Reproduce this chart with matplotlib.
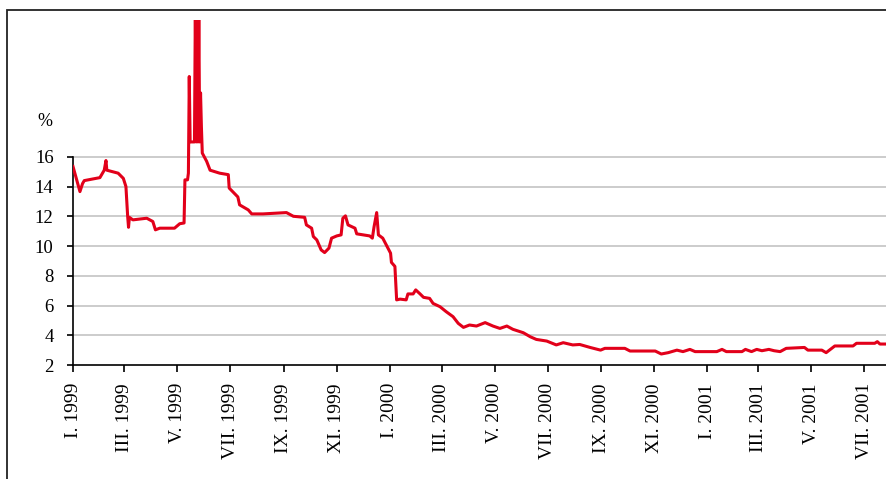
import matplotlib
matplotlib.use("Agg")
import matplotlib.pyplot as plt
from matplotlib.patches import Rectangle
import pandas as pd

plt.rcParams['font.family'] = ['Liberation Serif', 'DejaVu Serif']

# rate readings (date, %)
dates = [
    "1999-01-01", "1999-01-09", "1999-01-12", "1999-01-14", "1999-02-01", "1999-02-06",
    "1999-02-08", "1999-02-09", "1999-02-22", "1999-02-28", "1999-03-03", "1999-03-05",
    "1999-03-06", "1999-03-07", "1999-03-11", "1999-03-27", "1999-04-03", "1999-04-06",
    "1999-04-11", "1999-04-28", "1999-05-04", "1999-05-09", "1999-05-10", "1999-05-13",
    "1999-05-14", "1999-05-15", "1999-05-16", "1999-05-17", "1999-05-21", "1999-05-22",
    "1999-05-23", "1999-05-24", "1999-05-25", "1999-05-26", "1999-05-27", "1999-05-28",
    "1999-05-29", "1999-05-30", "1999-06-04",
    "1999-06-08", "1999-06-19", "1999-06-29", "1999-06-30", "1999-07-10", "1999-07-12",
    "1999-07-22", "1999-07-26", "1999-08-08", "1999-09-04", "1999-09-12", "1999-09-25",
    "1999-09-27", "1999-10-03", "1999-10-05", "1999-10-09", "1999-10-14", "1999-10-18",
    "1999-10-23", "1999-10-26", "1999-11-01", "1999-11-06", "1999-11-08", "1999-11-11",
    "1999-11-14", "1999-11-22", "1999-11-24", "1999-12-09", "1999-12-12", "1999-12-14",
    "1999-12-17", "1999-12-19", "1999-12-24", "1999-12-29", "2000-01-02", "2000-01-03",
    "2000-01-07", "2000-01-09", "2000-01-13", "2000-01-20", "2000-01-22", "2000-01-28",
    "2000-01-31", "2000-02-05", "2000-02-09", "2000-02-16", "2000-02-20", "2000-02-28",
    "2000-03-06", "2000-03-14", "2000-03-20", "2000-03-26", "2000-04-02", "2000-04-10",
    "2000-04-20", "2000-04-29", "2000-05-07", "2000-05-15", "2000-05-22", "2000-06-03",
    "2000-06-11", "2000-06-18", "2000-06-30", "2000-07-11", "2000-07-19", "2000-07-30",
    "2000-08-07", "2000-08-19", "2000-08-31", "2000-09-05", "2000-09-28", "2000-10-04",
    "2000-11-02", "2000-11-09", "2000-11-17", "2000-11-27", "2000-12-04", "2000-12-12",
    "2000-12-18", "2001-01-12", "2001-01-18", "2001-01-23", "2001-02-10", "2001-02-14",
    "2001-02-21", "2001-02-27", "2001-03-05", "2001-03-13", "2001-03-19", "2001-03-26",
    "2001-04-02", "2001-04-23", "2001-04-27", "2001-05-13", "2001-05-18", "2001-05-28",
    "2001-06-18", "2001-06-22", "2001-07-13", "2001-07-16", "2001-07-19", "2001-07-31",
]
rates = [
    15.35, 13.66, 14.2, 14.4, 14.6, 15.1,
    15.75, 15.1, 14.9, 14.55, 14.0, 12.0,
    11.26, 11.93, 11.76, 11.87, 11.65, 11.09,
    11.2, 11.2, 11.5, 11.55, 14.45, 14.45,
    14.9, 21.4, 17.0, 17.0, 17.0, 26.0,
    17.0, 26.0, 17.0, 26.0, 17.0, 20.3,
    18.0, 16.25, 15.7,
    15.1, 14.9, 14.8, 13.9, 13.3, 12.77,
    12.43, 12.16, 12.16, 12.25, 12.0, 11.93,
    11.42, 11.2, 10.64, 10.41, 9.74, 9.56,
    9.86, 10.53, 10.68, 10.75, 11.87, 12.03,
    11.42, 11.2, 10.82, 10.68, 10.53, 11.3,
    12.25, 10.75, 10.53, 9.97, 9.52, 8.9,
    8.63, 6.38, 6.43, 6.38, 6.78, 6.78,
    7.05, 6.78, 6.55, 6.48, 6.14, 5.92,
    5.59, 5.25, 4.8, 4.53, 4.69, 4.62,
    4.85, 4.62, 4.46, 4.62, 4.4, 4.17,
    3.9, 3.72, 3.61, 3.35, 3.5, 3.35,
    3.38, 3.18, 3.0, 3.12, 3.12, 2.94,
    2.94, 2.74, 2.83, 3.0, 2.9, 3.05,
    2.9, 2.9, 3.05, 2.9, 2.9, 3.05,
    2.9, 3.05, 2.96, 3.05, 2.96, 2.9,
    3.12, 3.18, 3.0, 3.0, 2.83, 3.28,
    3.28, 3.46, 3.46, 3.57, 3.41, 3.41,
]

tick_dates = ["1999-01-01", "1999-03-01", "1999-05-01", "1999-07-01", "1999-09-01",
              "1999-11-01", "2000-01-01", "2000-03-01", "2000-05-01", "2000-07-01",
              "2000-09-01", "2000-11-01", "2001-01-01", "2001-03-01", "2001-05-01",
              "2001-07-01"]
tick_labels = ["I. 1999", "III. 1999", "V. 1999", "VII. 1999", "IX. 1999", "XI. 1999",
               "I. 2000", "III. 2000", "V. 2000", "VII. 2000", "IX. 2000", "XI. 2000",
               "I. 2001", "III. 2001", "V. 2001", "VII. 2001"]
y_ticks = [2, 4, 6, 8, 10, 12, 14, 16]

x = pd.to_datetime(dates)

fig = plt.figure(figsize=(8.86, 4.79), dpi=100)
ax = fig.add_axes([73 / 886, 1 - 365 / 479, 1 - 73 / 886, (365 - 20) / 479])

# outer frame (clipped by the image on the right and bottom)
fig.patches.append(Rectangle((7 / 886, -0.2), 1.5, 0.2 + (1 - 10 / 479),
                             transform=fig.transFigure, fill=False,
                             edgecolor='#222222', linewidth=1.3))

for yv in y_ticks[1:]:
    ax.axhline(yv, color='#c8c8c8', linewidth=1.3, zorder=1)

ax.plot(x, rates, color='#e2001a', linewidth=2.2, zorder=3)

ax.set_ylim(2, 25.2)
ax.set_xlim(pd.Timestamp("1999-01-01"), pd.Timestamp("2001-07-26"))

ax.set_yticks(y_ticks)
ax.set_yticklabels([str(v) for v in y_ticks], fontsize=13.5)
ax.set_xticks(pd.to_datetime(tick_dates))
ax.set_xticklabels(tick_labels, rotation=90, fontsize=14, va='top', ha='center')

ax.tick_params(axis='x', direction='out', length=5, width=1.2, pad=8)
ax.tick_params(axis='y', direction='out', length=4, width=1.2, pad=10)

for s in ['top', 'right']:
    ax.spines[s].set_visible(False)
ax.spines['left'].set_bounds(2, 16)
ax.spines['left'].set_linewidth(1.2)
ax.spines['bottom'].set_linewidth(1.2)

fig.text(45 / 886, 1 - 122 / 479, "%", fontsize=13, ha='center', va='center')

fig.savefig("out.png", dpi=100)
